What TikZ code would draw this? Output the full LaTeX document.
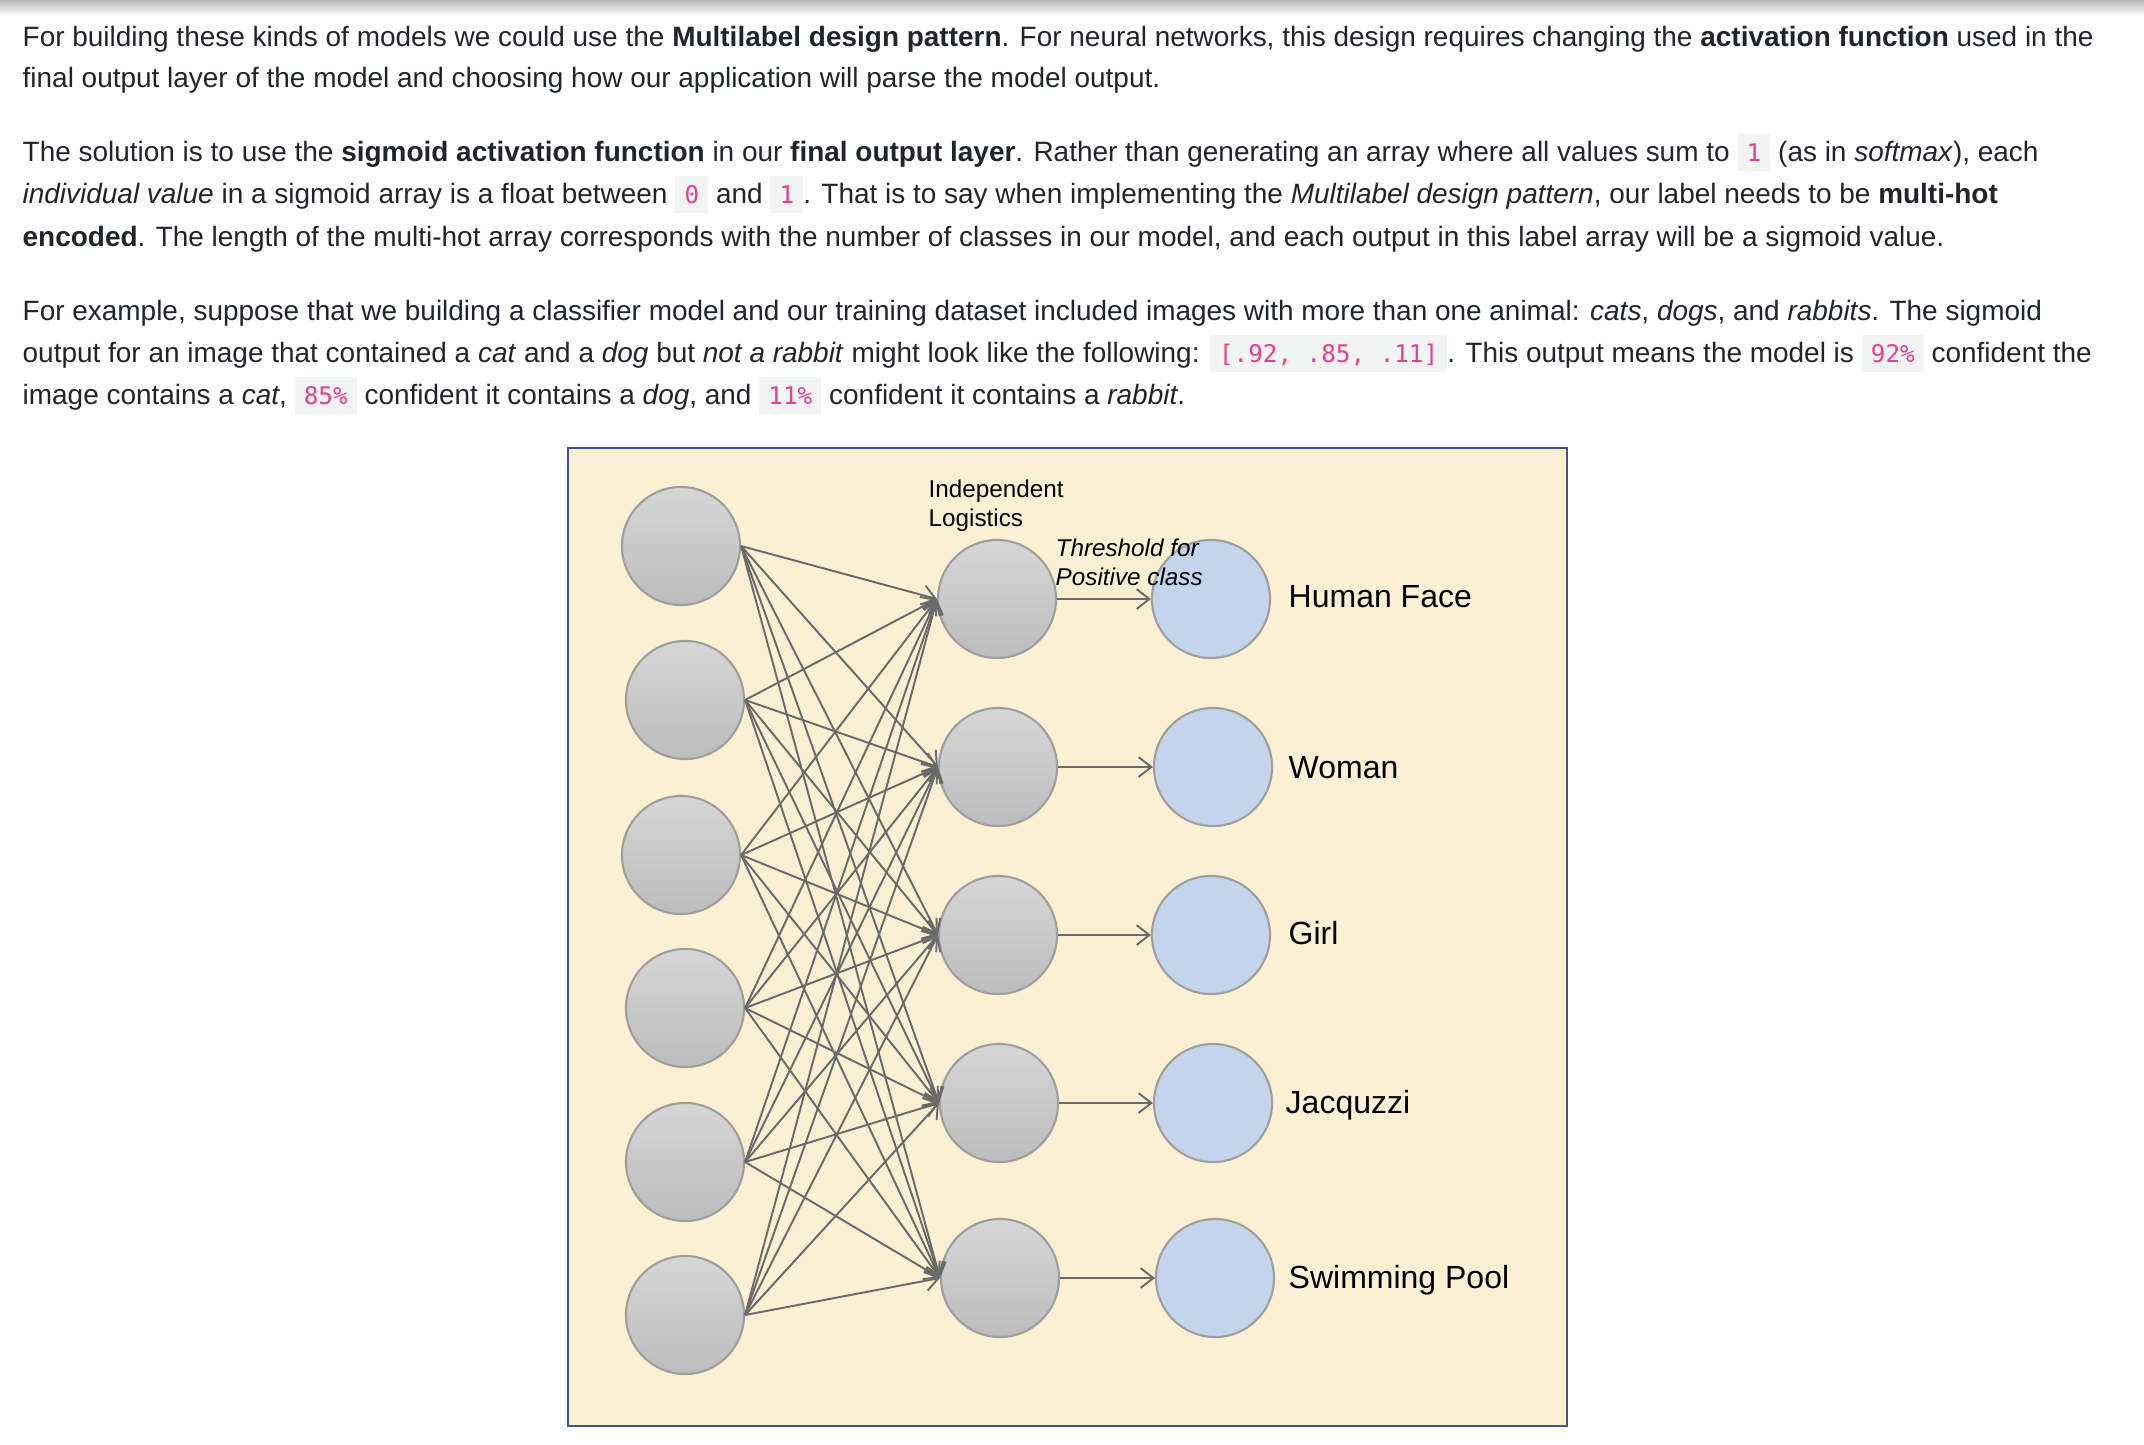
\documentclass[tikz,border=0pt]{standalone}
\usepackage{fontspec}
\setmainfont{Liberation Sans}
\newfontfamily\codefont{DejaVu Sans Mono}
\usetikzlibrary{arrows.meta}

\definecolor{bodytext}{HTML}{212529}
\definecolor{codepink}{HTML}{E83E8C}
\definecolor{codebg}{HTML}{F2F3F3}
\definecolor{panelfill}{HTML}{FCF0D3}
\definecolor{panelframe}{HTML}{3B5690}
\definecolor{nodeedge}{HTML}{9E9E9E}
\definecolor{graytop}{HTML}{D6D6D6}
\definecolor{graybottom}{HTML}{BCBCBC}
\definecolor{outblue}{HTML}{C4D5EB}
\definecolor{linkgray}{HTML}{6A6A6A}

% inline code span
\newcommand\code[1]{{\setlength\fboxsep{0pt}\colorbox{codebg}{\rule[-2.8pt]{0pt}{10.4pt}\hspace{2.6pt}{\codefont\fontsize{6.9}{8}\selectfont\color{codepink}#1}\hspace{2.6pt}}}}

\tikzset{
  textline/.style={anchor=base west, inner sep=0pt, text=bodytext, font=\fontsize{7.95}{9.5}\selectfont},
  neuron/.style={circle, minimum size=1.18cm, inner sep=0pt, draw=nodeedge, line width=0.6pt},
  hiddenunit/.style={neuron, top color=graytop, bottom color=graybottom},
  outunit/.style={neuron, fill=outblue},
  link/.style={draw=linkgray, line width=0.55pt, -{Straight Barb[length=3.6pt, width=5.6pt, line width=0.55pt]}},
  classlabel/.style={anchor=base west, inner sep=0pt, font=\fontsize{9.1}{11}\selectfont},
  note/.style={anchor=north west, inner sep=0pt, align=left, font=\fontsize{6.9}{8.2}\selectfont},
}

\begin{document}
\begin{tikzpicture}[x=0.01cm, y=-0.01cm]
\useasboundingbox (0,0) rectangle (2144,1444);
\fill[white] (0,0) rectangle (2144,1444);
\shade[top color=black!28, bottom color=white] (0,0) rectangle (2144,16);

% ---- paragraph 1
\node[textline] (p1a) at (22,46) {For building these kinds of models we could use the \textbf{Multilabel design pattern}. For neural networks, this design requires changing the \textbf{activation function} used in the};
\node[textline] (p1b) at (22,87) {final output layer of the model and choosing how our application will parse the model output.};

% ---- paragraph 2
\node[textline] (p2a) at (22,161) {The solution is to use the \textbf{sigmoid activation function} in our \textbf{final output layer}. Rather than generating an array where all values sum to \code{1} (as in \textit{softmax}), each};
\node[textline] (p2b) at (22,203) {\textit{individual value} in a sigmoid array is a float between \code{0} and \code{1}. That is to say when implementing the \textit{Multilabel design pattern}, our label needs to be \textbf{multi-hot}};
\node[textline] (p2c) at (22,246) {\textbf{encoded}. The length of the multi-hot array corresponds with the number of classes in our model, and each output in this label array will be a sigmoid value.};

% ---- paragraph 3
\node[textline] (p3a) at (22,320) {For example, suppose that we building a classifier model and our training dataset included images with more than one animal: \textit{cats}, \textit{dogs}, and \textit{rabbits}. The sigmoid};
\node[textline] (p3b) at (22,362) {output for an image that contained a \textit{cat} and a \textit{dog} but \textit{not a rabbit} might look like the following: \code{[.92, .85, .11]}. This output means the model is \code{92\%} confident the};
\node[textline] (p3c) at (22,404) {image contains a \textit{cat}, \code{85\%} confident it contains a \textit{dog}, and \code{11\%} confident it contains a \textit{rabbit}.};

% ---- figure panel
\draw[fill=panelfill, draw=panelframe, line width=0.8pt] (568,448) rectangle (1567,1426);

% input layer
\node[hiddenunit] (i1) at (681,546) {};
\node[hiddenunit] (i2) at (685,700) {};
\node[hiddenunit] (i3) at (681,855) {};
\node[hiddenunit] (i4) at (685,1008) {};
\node[hiddenunit] (i5) at (685,1162) {};
\node[hiddenunit] (i6) at (685,1315) {};

% logistic units
\node[hiddenunit] (h1) at (997,599) {};
\node[hiddenunit] (h2) at (998,767) {};
\node[hiddenunit] (h3) at (998,935) {};
\node[hiddenunit] (h4) at (999,1103) {};
\node[hiddenunit] (h5) at (1000,1278) {};

% thresholded outputs
\node[outunit] (o1) at (1211,599) {};
\node[outunit] (o2) at (1213,767) {};
\node[outunit] (o3) at (1211,935) {};
\node[outunit] (o4) at (1213,1103) {};
\node[outunit] (o5) at (1215,1278) {};

% fully connected links
\foreach \i in {1,...,6}
  \foreach \j in {1,...,5}
    \draw[link] (i\i.east) -- (h\j.west);

\foreach \j in {1,...,5}
  \draw[link] (h\j.east) -- (o\j.west);

% captions
\node[note] (indep) at (928,479) {Independent\\Logistics};
\node[note, font=\fontsize{6.9}{8.2}\selectfont\itshape] (thresh) at (1055,538) {Threshold for\\Positive class};

\node[classlabel] (l1) at (1288,607) {Human Face};
\node[classlabel] (l2) at (1288,778) {Woman};
\node[classlabel] (l3) at (1288,944) {Girl};
\node[classlabel] (l4) at (1285,1113) {Jacquzzi};
\node[classlabel] (l5) at (1288,1288) {Swimming Pool};
\end{tikzpicture}
\end{document}
